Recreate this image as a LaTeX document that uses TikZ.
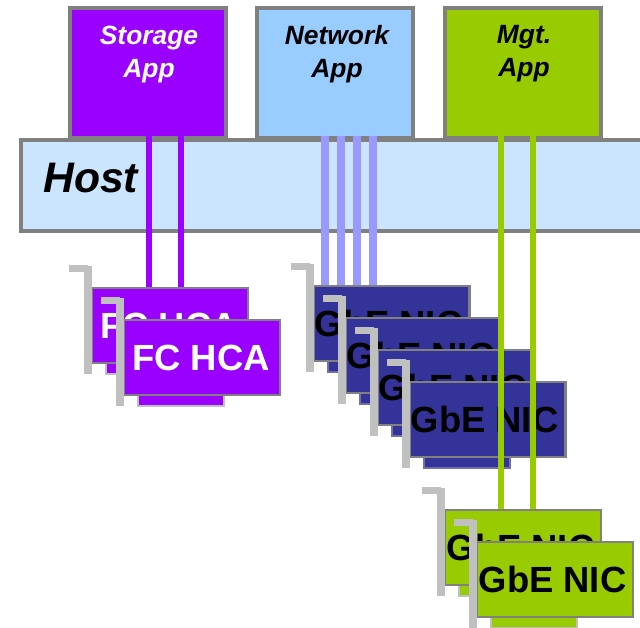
\documentclass[tikz,border=0pt]{standalone}
\usepackage{fontspec}
\setmainfont{Liberation Sans}
\definecolor{stor}{HTML}{9900FF}
\definecolor{netapp}{HTML}{99CCFF}
\definecolor{hostc}{HTML}{CCE5FF}
\definecolor{mgt}{HTML}{99CC00}
\definecolor{nic}{HTML}{333399}
\definecolor{netline}{HTML}{9999FF}
\definecolor{frame}{HTML}{808080}
\definecolor{brack}{HTML}{C0C0C0}
\definecolor{navytab}{HTML}{6F6FAD}
\tikzset{
  appbox/.style={draw=frame,line width=4pt,minimum width=156pt,minimum height=130pt,inner sep=0pt,outer sep=0pt},
  hostbox/.style={draw=frame,line width=3.5pt,fill=hostc,minimum width=660pt,minimum height=91pt,inner sep=0pt,outer sep=0pt},
  applabel/.style={font=\fontsize{26.4}{33}\selectfont\bfseries\itshape,align=center,inner sep=0pt,anchor=north},
  hostlabel/.style={font=\fontsize{42.7}{44}\selectfont\bfseries\itshape,inner sep=0pt,anchor=base west},
  cardbody/.style={draw=frame,line width=2.2pt,minimum width=156pt,minimum height=75pt,inner sep=0pt,outer sep=1pt,font=\fontsize{36.4}{36}\selectfont\bfseries},
  tabbox/.style={line width=2pt},
  brackbar/.style={fill=brack},
  conn/.style={line width=6pt},
  netconn/.style={line width=8pt,draw=netline}
}
% #1 name, #2 left, #3 top, #4 fill, #5 tab edge, #6 text colour, #7 text
\newcommand{\cardat}[7]{%
  \draw[tabbox,draw=#5,fill=#4] (#2+15,#3+76) rectangle (#2+101,#3+87);
  \node[cardbody,fill=#4,text=#6] (#1) at (#2+79,#3+38.5) {#7};
  \fill[brackbar] (#2-22,#3-22) rectangle (#2-3,#3-15);
  \fill[brackbar] (#2-7,#3-21) rectangle (#2+1,#3+87);
}
\begin{document}
\begin{tikzpicture}[x=1pt,y=-1pt]
\useasboundingbox (0,0) rectangle (640,628);
\clip (0,0) rectangle (640,628);
\fill[white] (0,0) rectangle (640,628);
\node[hostbox,anchor=north west] (host) at (21,140) {};
\node[appbox,fill=stor] (storage) at (148,73) {};
\node[appbox,fill=netapp] (network) at (335,73) {};
\node[appbox,fill=mgt] (mgmt) at (523,73) {};
\node[hostlabel] (hostt) at (43,192.5) {Host};
\node[applabel,text=white] (storaget) at (149,25.5) {Storage\\App};
\node[applabel,text=black] (networkt) at (337,25.5) {Network\\App};
\node[applabel,text=black] (mgmtt) at (524,25.5) {Mgt.\\App};
% cards stacked from back to front
\cardat{fca}{91}{287}{stor}{brack}{white}{\hspace*{-2pt}FC HCA}
\cardat{fcb}{123}{319}{stor}{brack}{white}{\hspace*{-2pt}FC HCA}
\cardat{nica}{312.5}{285}{nic}{navytab}{black}{\hspace*{-6pt}GbE NIC}
\cardat{nicb}{344.5}{317}{nic}{navytab}{black}{\hspace*{-6pt}GbE NIC}
\cardat{nicc}{376.5}{349}{nic}{navytab}{black}{\hspace*{-6pt}GbE NIC}
\cardat{nicd}{408.5}{381}{nic}{navytab}{black}{\hspace*{-6pt}GbE NIC}
% connectors
\draw[conn,draw=stor] ([xshift=1pt,yshift=2pt]storage.south) -- ([xshift=-21pt]fca.north);
\draw[conn,draw=stor] ([xshift=33pt,yshift=2pt]storage.south) -- ([xshift=11pt]fca.north);
\draw[netconn] ([xshift=-10pt,yshift=2pt]network.south) -- ([xshift=-66.5pt]nica.north);
\draw[netconn] ([xshift=6pt,yshift=2pt]network.south) -- ([xshift=-50.5pt]nica.north);
\draw[netconn] ([xshift=22pt,yshift=2pt]network.south) -- ([xshift=-34.5pt]nica.north);
\draw[netconn] ([xshift=38pt,yshift=2pt]network.south) -- ([xshift=-18.5pt]nica.north);
\cardat{gbea}{444}{509}{mgt}{brack}{black}{\hspace*{-5pt}GbE NIC}
\draw[conn,draw=mgt] ([xshift=-22pt,yshift=2pt]mgmt.south) -- ([xshift=-22pt]gbea.north);
\draw[conn,draw=mgt] ([xshift=10pt,yshift=2pt]mgmt.south) -- ([xshift=10pt]gbea.north);
\cardat{gbeb}{476}{541}{mgt}{brack}{black}{\hspace*{-5pt}GbE NIC}
\end{tikzpicture}
\end{document}
